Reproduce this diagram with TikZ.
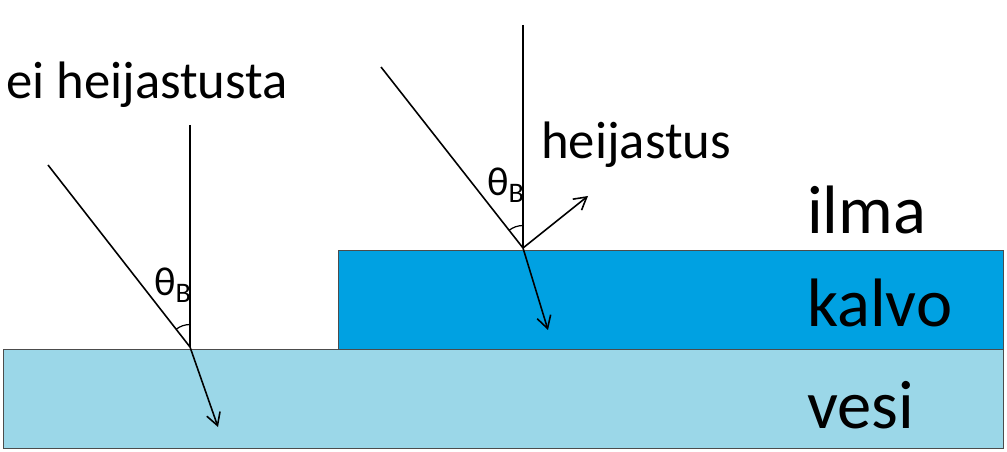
\documentclass[tikz,border=0pt]{standalone}
\usepackage{fontspec}
\setmainfont{Carlito}
\usetikzlibrary{angles, arrows.meta}
\definecolor{vesicol}{RGB}{155,215,232}
\definecolor{kalvocol}{RGB}{0,161,226}
\tikzset{
  ray/.style={line width=0.9pt},
  rayarrow/.style={ray, -{Straight Barb[length=7pt,width=8pt]}},
  medium/.style={anchor=west, font=\fontsize{39}{40}\selectfont},
  caption/.style={anchor=west, font=\fontsize{30}{32}\selectfont}
}
\begin{document}
\begin{tikzpicture}[x=0.02cm, y=-0.02cm]
  \useasboundingbox (0,0) rectangle (1007,452);
  % layers
  \filldraw[fill=vesicol, draw=black!70] (3,349) rectangle (1003,448);
  \filldraw[fill=kalvocol, draw=black!70] (338,250) rectangle (1003,349);
  \node[medium] (ilma) at (801,210) {ilma};
  \node[medium] (kalvo) at (801,303) {kalvo};
  \node[medium] (vesi) at (801,405) {vesi};

  % left: no reflection
  \coordinate (lo) at (190,347);
  \coordinate (ltop) at (190,125);
  \coordinate (lin) at (48,165);
  \coordinate (lout) at (218,427);
  \draw[ray] (ltop) -- (lo);
  \draw[ray] (lin) -- (lo);
  \draw[rayarrow] (lo) -- (lout);
  \pic[draw, line width=0.7pt, angle radius=0.45cm] {angle = ltop--lo--lin};
  \node[font=\fontsize{23}{24}\selectfont] (lang) at (173,285) {θ\textsubscript{B}};
  \node[caption] (lcap) at (0,85) {ei heijastusta};

  % right: reflection
  \coordinate (ro) at (523,248);
  \coordinate (rtop) at (523,25);
  \coordinate (rin) at (381,67);
  \coordinate (rref) at (588,196);
  \coordinate (rout) at (548,330);
  \draw[ray] (rtop) -- (ro);
  \draw[ray] (rin) -- (ro);
  \draw[rayarrow] (ro) -- (rref);
  \draw[rayarrow] (ro) -- (rout);
  \pic[draw, line width=0.7pt, angle radius=0.45cm] {angle = rtop--ro--rin};
  \node[font=\fontsize{23}{24}\selectfont] (rang) at (506,185) {θ\textsubscript{B}};
  \node[caption] (rcap) at (535,145) {heijastus};
\end{tikzpicture}
\end{document}
